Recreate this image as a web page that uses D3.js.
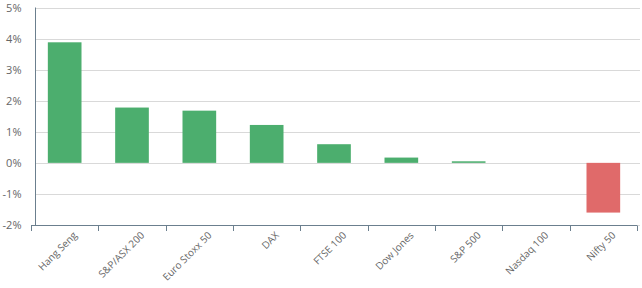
<!DOCTYPE html>
<html>
<head>
<meta charset="utf-8">
<script src="https://cdn.jsdelivr.net/npm/d3@7"></script>
<style>
  html, body { margin: 0; padding: 0; background: #fff; }
  svg { display: block; font-family: "Open Sans", sans-serif; }
</style>
</head>
<body>
<div id="app"></div>
<script>
// 指数名称
const categories = ['Hang Seng', 'S&P/ASX 200', 'Euro Stoxx 50', 'DAX', 'FTSE 100', 'Dow Jones', 'S&P 500', 'Nasdaq 100', 'Nifty 50']
// 涨跌幅 (%)
const values = [3.88, 1.78, 1.68, 1.22, 0.6, 0.17, 0.05, 0, -1.6]
// y轴刻度
const yTicks = [-2, -1, 0, 1, 2, 3, 4, 5]

const _config = {
  width: 642,
  height: 288,
  margin: { top: 7.5, right: 5, bottom: 63, left: 31 },
  yAxisX: 35,
  colors: { up: '#4cae6e', down: '#e06a6a' },
}

const svg = d3.select('#app')
  .append('svg')
  .attr('width', _config.width)
  .attr('height', _config.height)

const xScale = d3.scaleBand()
  .domain(categories)
  .range([_config.margin.left, _config.width - _config.margin.right])
  .paddingInner(0.5)
  .paddingOuter(0.25)

const yScale = d3.scaleLinear()
  .domain([-2, 5])
  .range([_config.height - _config.margin.bottom, _config.margin.top])

// 网格线
svg.append('g')
  .selectAll('line')
  .data(yTicks)
  .enter()
  .append('line')
  .attr('x1', _config.yAxisX)
  .attr('x2', _config.width - 2)
  .attr('y1', d => Math.round(yScale(d)) + 0.5)
  .attr('y2', d => Math.round(yScale(d)) + 0.5)
  .attr('stroke', '#d9d9d9')
  .attr('stroke-width', 1)

// 柱子
svg.append('g')
  .selectAll('rect')
  .data(values)
  .enter()
  .append('rect')
  .attr('x', (d, i) => xScale(categories[i]))
  .attr('y', d => yScale(Math.max(d, 0)))
  .attr('width', xScale.bandwidth())
  .attr('height', d => Math.abs(yScale(d) - yScale(0)))
  .attr('fill', d => d >= 0 ? _config.colors.up : _config.colors.down)

// y轴
const yAxis = d3.axisLeft(yScale)
  .tickValues(yTicks)
  .tickSize(0)
  .tickPadding(14)
  .tickFormat(d => d + '%')
svg.append('g')
  .attr('transform', `translate(${_config.yAxisX + 0.5}, 0)`)
  .call(yAxis)
  .call(g => g.select('.domain')
    .attr('d', `M0,${yScale(5)}V${yScale(-2)}`)
    .attr('stroke', '#6b7f8e'))
  .call(g => g.selectAll('text')
    .attr('fill', '#666')
    .attr('font-size', 11)
    .attr('font-family', 'Open Sans, sans-serif'))

// x轴
const tickPos = d3.range(categories.length + 1).map(i => _config.margin.left + i * ((_config.width - _config.margin.left - _config.margin.right) / categories.length))
const xg = svg.append('g')
xg.append('line')
  .attr('x1', _config.margin.left)
  .attr('x2', _config.width - _config.margin.right)
  .attr('y1', Math.round(yScale(-2)) + 0.5)
  .attr('y2', Math.round(yScale(-2)) + 0.5)
  .attr('stroke', '#6b7f8e')
xg.selectAll('.tick')
  .data(tickPos)
  .enter()
  .append('line')
  .attr('x1', d => Math.round(d) + 0.5)
  .attr('x2', d => Math.round(d) + 0.5)
  .attr('y1', Math.round(yScale(-2)) + 0.5)
  .attr('y2', Math.round(yScale(-2)) + 6)
  .attr('stroke', '#6b7f8e')
xg.selectAll('text')
  .data(categories)
  .enter()
  .append('text')
  .attr('transform', d => `translate(${xScale(d) + xScale.bandwidth() / 2 + 13}, ${yScale(-2) + 11}) rotate(-45)`)
  .attr('text-anchor', 'end')
  .attr('fill', '#666')
  .attr('font-size', 10)
  .text(d => d)
</script>
</body>
</html>
